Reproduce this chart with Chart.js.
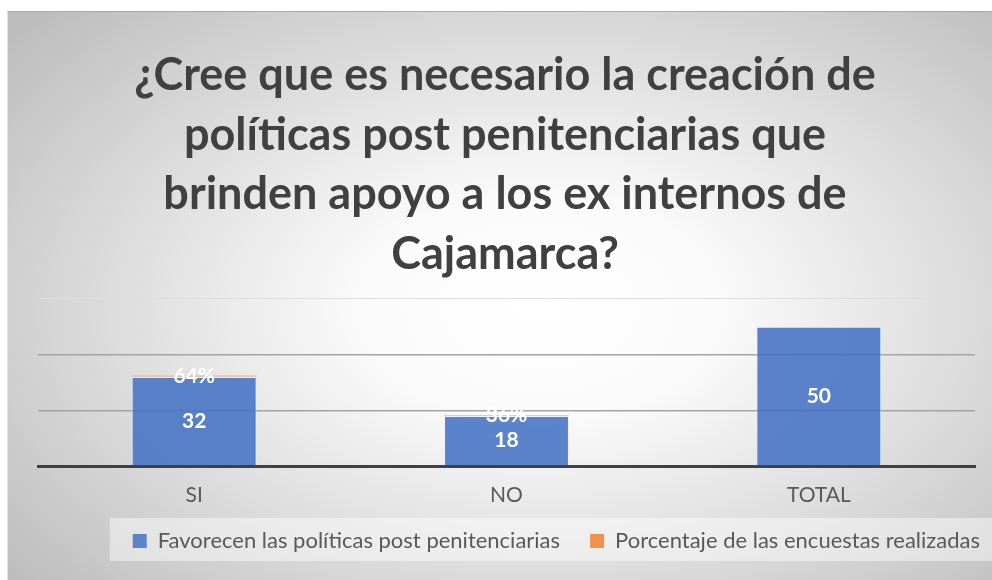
<!DOCTYPE html>
<html>
<head>
<meta charset="utf-8">
<script src="https://cdn.jsdelivr.net/npm/chart.js@4.4.1/dist/chart.umd.min.js"></script>
<style>
  html, body { margin: 0; padding: 0; background: #ffffff; overflow: hidden; width: 992px; height: 580px; }
  #frame {
    position: absolute; left: 7px; top: 11px; width: 985px; height: 569px;
    border-top: 1px solid #a9a9a9; border-left: 1px solid #e2e2e2;
    box-sizing: border-box;
    background: radial-gradient(ellipse 70% 75% at 54% 52%, #ffffff 0%, #fbfbfb 25%, #bdbdbd 100%);
  }
  #wrap { position: absolute; left: 0; top: 0; width: 1010px; height: 580px; }
</style>
</head>
<body>
<div id="frame"></div>
<div id="wrap"><canvas id="c" width="1010" height="580"></canvas></div>
<script>
const categories = ["SI", "NO", "TOTAL"];
const favorecen = [32, 18, 50];
const porcentaje = [0.64, 0.36, null];
const seriesNames = ["Favorecen las políticas post penitenciarias", "Porcentaje de las encuestas realizadas"];
const titleLines = [
  "¿Cree que es necesario la creación de",
  "políticas post penitenciarias que",
  "brinden apoyo a los ex internos de",
  "Cajamarca?"
];
const yTicks = [0, 20, 40, 60];

const labelPlugin = {
  id: 'barLabels',
  afterDatasetsDraw(chart) {
    const ctx = chart.ctx;
    ctx.save();
    ctx.fillStyle = '#ffffff';
    ctx.font = 'bold 21px Lato';
    ctx.textAlign = 'center';
    ctx.textBaseline = 'middle';
    chart.data.datasets.forEach((ds, di) => {
      const meta = chart.getDatasetMeta(di);
      meta.data.forEach((el, i) => {
        const v = ds.data[i];
        if (v === null || v === undefined) return;
        const txt = di === 0 ? String(v) : Math.round(v * 100) + '%';
        const cy = (el.y + el.base) / 2;
        ctx.fillText(txt, el.x, cy);
      });
    });
    ctx.restore();
  }
};

const bandPlugin = {
  id: 'legendBand',
  afterLayout(chart) {
    // let the category labels use the space above the legend without being clipped
    if (chart.scales.x) chart.scales.x.bottom += 20;
  },
  beforeDraw(chart) {
    const lg = chart.legend;
    if (!lg || !lg.legendHitBoxes || !lg.legendHitBoxes.length) return;
    const hb = lg.legendHitBoxes[0];
    const cy = hb.top + hb.height / 2;
    const ctx = chart.ctx;
    ctx.save();
    ctx.fillStyle = 'rgba(255,255,255,0.45)';
    ctx.fillRect(hb.left - 23, cy - 23, chart.width - (hb.left - 23), 43);
    ctx.restore();
  }
};

new Chart(document.getElementById('c'), {
  type: 'bar',
  data: {
    labels: categories,
    datasets: [
      {
        label: seriesNames[0],
        data: favorecen,
        backgroundColor: 'rgba(68,114,196,0.87)',
        borderColor: 'rgba(235,240,250,0.7)',
        borderWidth: 1,
        categoryPercentage: 0.4,
        barPercentage: 1.0
      },
      {
        label: seriesNames[1],
        data: porcentaje,
        backgroundColor: 'rgba(245,190,150,0.9)',
        borderWidth: 0,
        categoryPercentage: 0.4,
        barPercentage: 1.0
      }
    ]
  },
  options: {
    responsive: false,
    animation: false,
    devicePixelRatio: 1,
    layout: { padding: { left: 0, right: 0, top: 0, bottom: 18 } },
    scales: {
      x: {
        stacked: true,
        afterFit(scale) { scale.height = 34; },
        grid: { display: false, drawTicks: false },
        border: { display: true, color: '#404040', width: 3 },
        ticks: { color: '#595959', font: { family: 'Lato', size: 21 }, padding: 17 }
      },
      y: {
        stacked: true,
        min: 0, max: 60,
        afterBuildTicks(scale) { scale.ticks = yTicks.map(v => ({ value: v })); },
        afterFit(scale) { scale.width = 38; },
        grid: {
          drawTicks: false,
          color: (c) => c.tick.value === 0 ? 'rgba(0,0,0,0)' : (c.tick.value === 60 ? '#dedede' : '#a3a3a3'),
          lineWidth: (c) => c.tick.value === 60 ? 1 : 1.5
        },
        border: { display: false },
        ticks: { display: false }
      },
      yRight: {
        position: 'right',
        min: 0, max: 60,
        afterFit(scale) { scale.width = 35; },
        grid: { display: false, drawTicks: false },
        border: { display: false },
        ticks: { display: false }
      }
    },
    plugins: {
      title: {
        display: true,
        text: titleLines,
        color: '#404040',
        font: { family: 'Lato', weight: 'bold', size: 45, lineHeight: 1.322 },
        padding: { top: 46, bottom: 15 }
      },
      legend: {
        display: true,
        position: 'bottom',
        align: 'end',
        labels: {
          color: '#595959',
          font: { family: 'Lato', size: 22 },
          boxWidth: 14, boxHeight: 14,
          padding: 30,
          generateLabels(chart) {
            const cols = ['#5b84c9', '#f0914f'];
            return chart.data.datasets.map((ds, i) => ({
              text: ds.label, fillStyle: cols[i], strokeStyle: cols[i], lineWidth: 0,
              fontColor: '#595959', datasetIndex: i, hidden: false
            }));
          }
        }
      },
      tooltip: { enabled: false }
    }
  },
  plugins: [bandPlugin, labelPlugin]
});
</script>
</body>
</html>
